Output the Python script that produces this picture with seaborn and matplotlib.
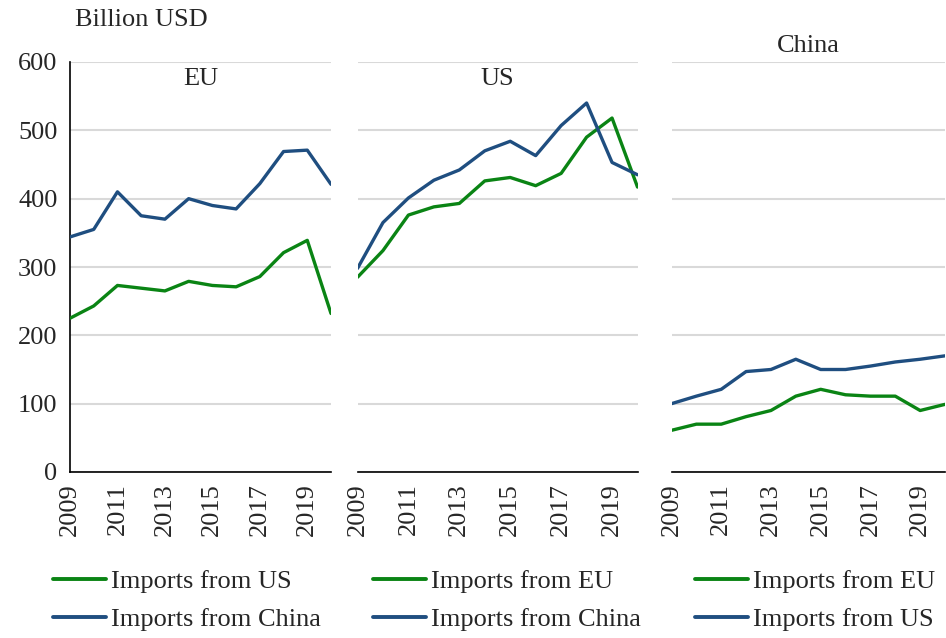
import pandas as pd
import matplotlib
matplotlib.use("Agg")
import matplotlib.pyplot as plt
import seaborn as sns

# Data (billion USD)
years = list(range(2009, 2021))

eu_from_us = [225, 243, 273, 269, 265, 279, 273, 271, 286, 321, 339, 232]
eu_from_china = [344, 355, 410, 375, 370, 400, 390, 385, 422, 469, 471, 421]

us_from_eu = [285, 324, 376, 388, 393, 426, 431, 419, 437, 490, 518, 417]
us_from_china = [298, 365, 401, 427, 442, 470, 484, 463, 507, 540, 453, 435]

cn_from_eu = [61, 70, 70, 81, 90, 111, 121, 113, 111, 111, 90, 99]
cn_from_us = [100, 111, 121, 147, 150, 165, 150, 150, 155, 161, 165, 170]

panel_titles = ["EU", "US", "China"]
series_labels = [
    ["Imports from US", "Imports from China"],
    ["Imports from EU", "Imports from China"],
    ["Imports from EU", "Imports from US"],
]
series_values = [
    [eu_from_us, eu_from_china],
    [us_from_eu, us_from_china],
    [cn_from_eu, cn_from_us],
]
y_ticks = [0, 100, 200, 300, 400, 500, 600]

GREEN = "#0a8414"
BLUE = "#1f4e80"
FS = 19

sns.set_style("white")
plt.rcParams["font.family"] = ["Liberation Serif", "DejaVu Serif"]
plt.rcParams["font.size"] = FS

fig = plt.figure(figsize=(9.46, 6.38), dpi=100)
W, H = 946, 638

# axes positions in pixels: (left, right)
panels_px = [(70, 331), (357.5, 637.5), (671.5, 945)]
y0_px, y600_px = 472, 62
legend_x = [53, 373, 695]

for i, (l, r) in enumerate(panels_px):
    ax = fig.add_axes([l / W, (H - y0_px) / H, (r - l) / W, (y0_px - y600_px) / H])
    rows = []
    for lab, vals in zip(series_labels[i], series_values[i]):
        for yr, v in zip(years, vals):
            rows.append({"Year": yr, "Value": v, "Series": lab})
    df = pd.DataFrame(rows)
    pal = {series_labels[i][0]: GREEN, series_labels[i][1]: BLUE}
    sns.lineplot(data=df, x="Year", y="Value", hue="Series", hue_order=series_labels[i],
                 palette=pal, linewidth=2.4, ax=ax, legend=True, zorder=3)

    ax.set_xlim(2009, 2020)
    ax.set_ylim(0, 600)
    ax.set_yticks(y_ticks)
    ax.grid(axis="y", color="#d9d9d9", linewidth=1.5, zorder=0)
    ax.set_xlabel("")
    ax.set_ylabel("")
    ax.set_xticks(years)
    ax.set_xticklabels([str(y) if y % 2 == 1 else "" for y in years], rotation=90)
    ax.tick_params(axis="x", direction="out", length=7, width=1.2, color="black", pad=1,
                   labelsize=FS)
    for s in ["top", "right"]:
        ax.spines[s].set_visible(False)
    ax.spines["bottom"].set_color("black")
    ax.spines["bottom"].set_linewidth(1.2)
    if i == 0:
        ax.spines["left"].set_color("black")
        ax.spines["left"].set_linewidth(1.2)
        ax.tick_params(axis="y", direction="out", length=6, width=1.2, color="black",
                       pad=3, labelsize=FS)
    else:
        ax.spines["left"].set_visible(False)
        ax.tick_params(axis="y", left=False, labelleft=False)

    if i < 2:
        ax.text(0.5, 0.985, panel_titles[i], transform=ax.transAxes, ha="center", va="top",
                fontsize=FS)
    else:
        ax.text(0.5, 1.012, panel_titles[i], transform=ax.transAxes, ha="center", va="bottom",
                fontsize=FS)

    handles, labels = ax.get_legend_handles_labels()
    ax.legend(handles, labels, loc="upper left",
              bbox_to_anchor=(legend_x[i] / W, 1 - 570 / H), bbox_transform=fig.transFigure,
              frameon=False, fontsize=FS, handlelength=2.0, handletextpad=0.2,
              labelspacing=0.55, borderpad=0, borderaxespad=0)
    for ln in ax.get_legend().get_lines():
        ln.set_linewidth(2.8)

fig.text(75 / W, 1 - 20 / H, "Billion USD", ha="left", va="center", fontsize=FS)

fig.savefig("out.png", dpi=100)
